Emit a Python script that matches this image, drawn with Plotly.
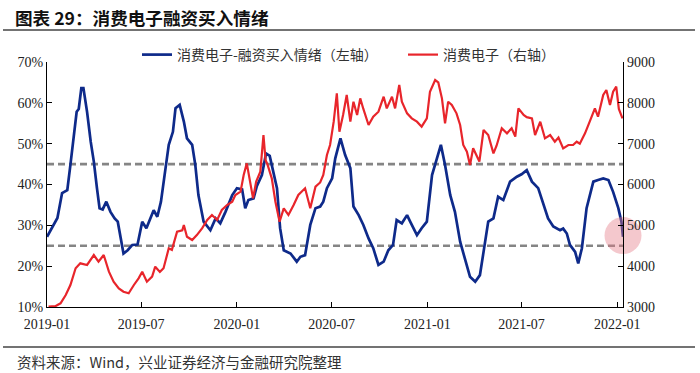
import pandas as pd
import plotly.graph_objects as go

START = "2019-01-01"

# 消费电子-融资买入情绪 (左轴, %) : day offset from 2019-01-01, value
blue_days = [0, 20, 29, 39, 45, 51, 57, 61, 66, 70, 77, 84, 90, 96, 101, 107, 114, 122, 130, 136,
             141, 147, 155, 164, 174, 183, 191, 199, 205, 212, 219, 226, 234, 242, 247, 255, 263, 269,
             279, 285, 291, 301, 314, 324, 333, 343, 356, 365, 375, 381, 387, 397, 403, 413, 421, 428,
             435, 442, 448, 455, 468, 480, 487, 496, 506, 516, 525, 531, 538, 548, 554, 564, 573, 583,
             589, 599, 608, 618, 627, 637, 647, 656, 665, 672, 682, 692, 698, 711, 720, 730, 740, 749,
             757, 765, 775, 784, 794, 803, 813, 823, 832, 839, 848, 858, 867, 877, 890, 903, 912, 922,
             932, 944, 954, 963, 973, 986, 992, 999, 1005, 1015, 1021, 1028, 1037, 1050, 1059, 1069,
             1079, 1088, 1098, 1104, 1107]
blue_vals = [27.2, 31.8, 37.9, 38.6, 44.8, 52.1, 57.8, 58.5, 63.6, 63.6, 57.8, 50.5, 45.6, 39.1, 34.2,
             33.9, 35.8, 33.3, 31.7, 30.9, 27.2, 23.1, 23.9, 25.2, 25.3, 30.9, 29.3, 31.7, 33.7, 32.1,
             35.8, 42.3, 49.7, 52.9, 58.7, 59.5, 55.4, 51.3, 49.7, 44.8, 37.4, 30.9, 28.8, 31.7, 30.5,
             33.3, 37.4, 39.1, 38.8, 34.2, 36.2, 36.6, 39.5, 42.3, 47.6, 47.0, 43.1, 39.1, 29.3, 23.9,
             23.1, 21.1, 22.3, 22.7, 30.1, 34.2, 34.6, 35.8, 39.1, 41.5, 46.4, 51.3, 47.2, 44.0, 34.6,
             32.5, 30.1, 26.8, 24.4, 20.3, 21.1, 23.9, 25.2, 31.3, 30.5, 32.5, 30.9, 27.6, 29.3, 30.9,
             42.3, 46.4, 49.7, 44.8, 37.4, 33.3, 26.0, 21.9, 17.4, 16.2, 17.8, 23.5, 30.9, 31.7, 37.0,
             36.2, 40.7, 41.9, 42.5, 43.5, 40.7, 39.1, 35.0, 31.7, 29.7, 28.8, 29.2, 28.0, 25.2, 23.5,
             20.7, 24.4, 34.2, 40.7, 41.1, 41.5, 41.1, 38.2, 34.2, 30.9, 27.2]

# 消费电子 (右轴, index level)
red_days = [3, 16, 26, 36, 45, 55, 64, 77, 90, 99, 109, 119, 128, 138, 147, 157, 167, 176, 183, 192,
            202, 208, 217, 224, 234, 240, 250, 260, 263, 269, 279, 288, 298, 308, 317, 327, 336, 346,
            356, 362, 372, 378, 384, 391, 396, 402, 410, 416, 420, 424, 432, 439, 447, 455, 464, 474,
            483, 496, 506, 516, 525, 531, 538, 544, 551, 557, 562, 569, 576, 583, 589, 596, 602, 608,
            618, 627, 637, 647, 653, 663, 669, 677, 682, 692, 701, 711, 720, 730, 736, 746, 752, 759,
            765, 771, 778, 787, 794, 800, 807, 813, 819, 826, 831, 839, 848, 858, 864, 874, 884, 893,
            900, 906, 916, 922, 932, 938, 948, 957, 967, 976, 983, 992, 1002, 1011, 1018, 1024, 1034,
            1043, 1053, 1059, 1069, 1075, 1082, 1088, 1094, 1099, 1106]
red_vals = [3007, 3020, 3090, 3294, 3539, 3948, 4070, 4029, 4273, 4110, 4273, 3865, 3620, 3457, 3375,
            3335, 3539, 3702, 3865, 3620, 3743, 3988, 3860, 3948, 4437, 4400, 4845, 4880, 5008, 4722,
            4641, 4760, 4927, 5131, 5253, 5131, 5375, 5498, 5579, 5743, 5824, 6233, 6518, 6069, 5661,
            6069, 6314, 7212, 6600, 6478, 6151, 5579, 5090, 5417, 5253, 5498, 5743, 5906, 5417, 5947,
            6050, 6233, 6722, 6967, 7538, 8233, 7293, 7702, 8192, 7538, 8028, 7700, 8110, 7850, 7457,
            7661, 7783, 8151, 7865, 8151, 7865, 8437, 8028, 7743, 7620, 7538, 7416, 7620, 8273, 8559,
            8500, 8110, 7498, 8028, 7947, 7743, 7457, 6967, 6804, 6478, 6886, 6700, 6559, 7335, 7212,
            6763, 6950, 7376, 7253, 7376, 7171, 7865, 7702, 7650, 7620, 7212, 7538, 7131, 7212, 7048,
            7150, 6886, 6967, 6967, 7048, 7000, 7253, 7538, 7865, 7661, 8192, 8314, 7947, 8273, 8396,
            7850, 7620]

# highlighted latest reading
mark_day = 1107
mark_val = 27.5

# reference levels (left axis)
ref_levels = [45, 25]

x_tick_vals = ["2019-01-01", "2019-07-01", "2020-01-01", "2020-07-01", "2021-01-01", "2021-07-01", "2022-01-01"]
x_tick_text = ["2019-01", "2019-07", "2020-01", "2020-07", "2021-01", "2021-07", "2022-01"]
x_end_day = 1107


def to_dates(days):
    return pd.Timestamp(START) + pd.to_timedelta(days, unit="D")


BLUE = "#0E2A8A"
RED = "#E8252B"
CJK = "Noto Sans CJK SC"
SERIF = "Liberation Serif, Times New Roman, serif"

fig = go.Figure()
fig.add_trace(go.Scatter(x=to_dates(blue_days), y=blue_vals, mode="lines",
                         name="消费电子-融资买入情绪（左轴）",
                         line=dict(color=BLUE, width=2.7), yaxis="y"))
fig.add_trace(go.Scatter(x=to_dates(red_days), y=red_vals, mode="lines",
                         name="消费电子（右轴）",
                         line=dict(color=RED, width=2.2), yaxis="y2"))
fig.add_trace(go.Scatter(x=to_dates([mark_day]), y=[mark_val], mode="markers",
                         marker=dict(size=37, color="rgba(228,125,135,0.42)", line=dict(width=0)),
                         showlegend=False, cliponaxis=False, hoverinfo="skip", yaxis="y"))

for lv in ref_levels:
    fig.add_shape(type="line", xref="paper", x0=0, x1=1, yref="y", y0=lv, y1=lv,
                  line=dict(color="#858585", width=2.6, dash="7px,4px"), layer="below")

# title underline and footer separator
fig.add_shape(type="line", xref="paper", yref="paper", x0=-44 / 576, x1=648 / 576,
              y0=1 + 32 / 245, y1=1 + 32 / 245, line=dict(color="#444444", width=1.5))
fig.add_shape(type="line", xref="paper", yref="paper", x0=-44 / 576, x1=648 / 576,
              y0=-40 / 245, y1=-40 / 245, line=dict(color="#444444", width=1.5))

fig.add_annotation(text="<b>图表 29：消费电子融资买入情绪</b>", xref="paper", yref="paper",
                   x=-34 / 576, y=1 + 45 / 245, xanchor="left", yanchor="middle", showarrow=False,
                   font=dict(family=CJK, size=17.6, color="#111111"))
fig.add_annotation(text="资料来源：Wind，兴业证券经济与金融研究院整理", xref="paper", yref="paper",
                   x=-32 / 576, y=-54 / 245, xanchor="left", yanchor="middle", showarrow=False,
                   font=dict(family=CJK, size=14.5, color="#333333"))

axis_font = dict(family=SERIF, size=14, color="#222222")
fig.update_layout(
    width=700, height=373,
    margin=dict(l=47, r=77, t=62, b=66, autoexpand=False),
    paper_bgcolor="white", plot_bgcolor="white",
    showlegend=True,
    legend=dict(orientation="h", x=90 / 576, xanchor="left", y=1 + 7 / 245, yanchor="middle",
                font=dict(family=CJK, size=14, color="#333333"), bgcolor="rgba(0,0,0,0)",
                itemwidth=30, tracegroupgap=0, entrywidth=221, entrywidthmode="pixels"),
    xaxis=dict(type="date", range=[START, to_dates([x_end_day])[0]],
               tickvals=x_tick_vals, ticktext=x_tick_text, tickfont=axis_font,
               showgrid=False, zeroline=False, showline=True, linecolor="#000000", linewidth=1.2,
               ticks="inside", ticklen=5, tickcolor="#000000", ticklabelstandoff=4),
    yaxis=dict(range=[10, 70], dtick=10, ticksuffix="%", tickfont=axis_font,
               showgrid=False, zeroline=False, showline=True, linecolor="#000000", linewidth=1.2,
               ticks="inside", ticklen=5, tickcolor="#000000"),
    yaxis2=dict(range=[3000, 9000], dtick=1000, overlaying="y", side="right", tickfont=axis_font,
                showgrid=False, zeroline=False, showline=True, linecolor="#000000", linewidth=1.2,
                ticks="inside", ticklen=5, tickcolor="#000000"),
)

fig.write_html("out.html", config={"displayModeBar": False},
               post_script="document.body.style.margin='0';document.body.style.overflow='hidden';")
